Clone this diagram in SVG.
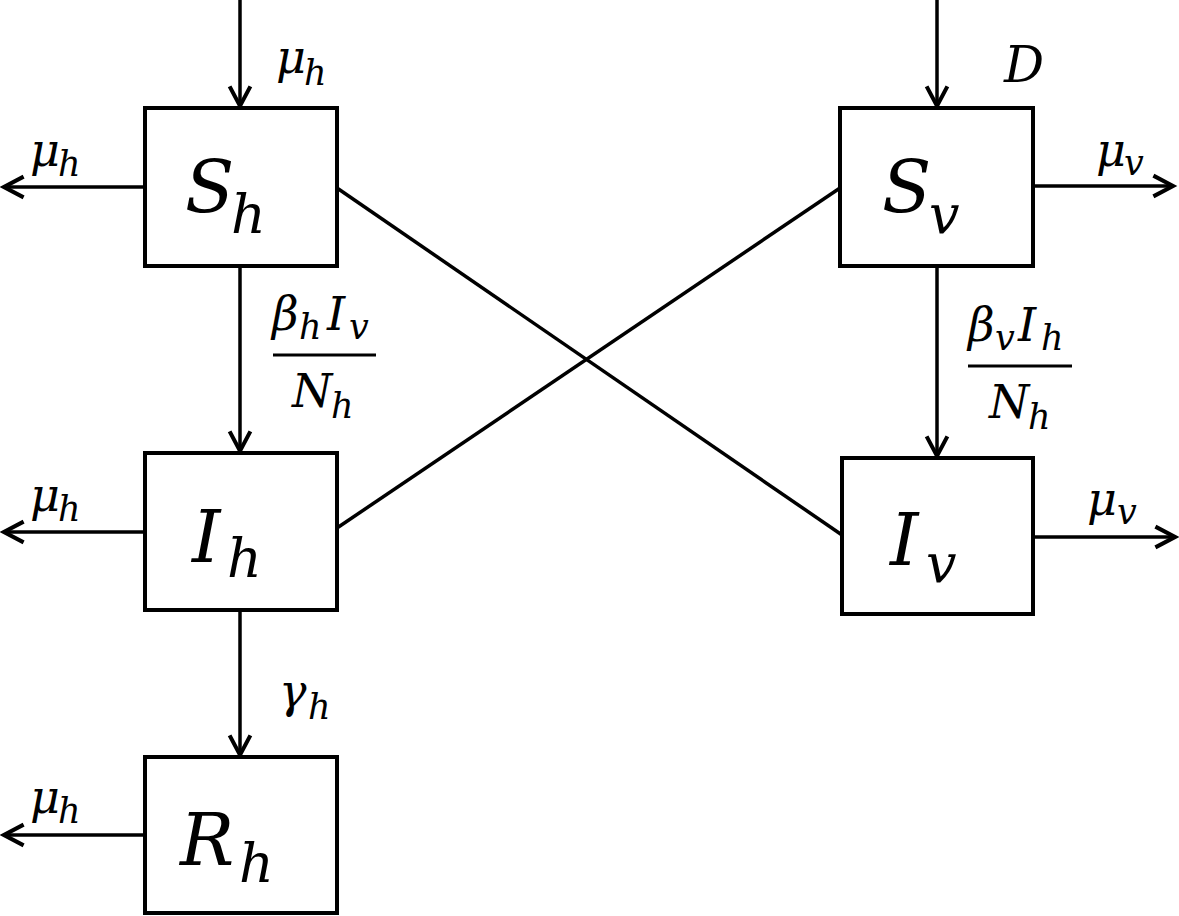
<svg xmlns="http://www.w3.org/2000/svg" width="1179" height="916" viewBox="0 0 1179 916">
<style>
.box{fill:#fff;stroke:#000;stroke-width:4}
.ln{fill:none;stroke:#000;stroke-width:3.5}
.m{font-family:"DejaVu Serif","Liberation Serif",serif;font-style:italic;fill:#000}
.big{font-size:72px}
.bs{font-size:54px}
.lb{font-size:46px}
.ls{font-size:35px}
</style>
<defs>
<marker id="ah" markerUnits="userSpaceOnUse" markerWidth="30" markerHeight="30" viewBox="-22 -12 26 24" refX="0" refY="0" orient="auto" overflow="visible">
<path d="M-17,-9 L0,0 L-17,9" fill="none" stroke="#000" stroke-width="3.5" stroke-linejoin="miter"/>
</marker>
</defs>
<rect width="1179" height="916" fill="#fff"/>
<g id="connectors">
<line class="ln" x1="240" y1="0" x2="240" y2="106" marker-end="url(#ah)"/>
<line class="ln" x1="145" y1="187" x2="4" y2="187" marker-end="url(#ah)"/>
<line class="ln" x1="240" y1="266" x2="240" y2="451" marker-end="url(#ah)"/>
<line class="ln" x1="145" y1="532" x2="4" y2="532" marker-end="url(#ah)"/>
<line class="ln" x1="240" y1="610" x2="240" y2="755" marker-end="url(#ah)"/>
<line class="ln" x1="145" y1="835" x2="4" y2="835" marker-end="url(#ah)"/>
<line class="ln" x1="937" y1="0" x2="937" y2="106" marker-end="url(#ah)"/>
<line class="ln" x1="1033" y1="186" x2="1173" y2="186" marker-end="url(#ah)"/>
<line class="ln" x1="937" y1="266" x2="937" y2="456" marker-end="url(#ah)"/>
<line class="ln" x1="1033" y1="537" x2="1175" y2="537" marker-end="url(#ah)"/>
<line class="ln" x1="337" y1="188" x2="842" y2="535"/>
<line class="ln" x1="337" y1="528" x2="840" y2="188"/>
</g>
<g id="labels">
<text class="m lb" x="276" y="73">μ</text><text class="m ls" x="304" y="85">h</text>
<text class="m lb" x="30" y="166">μ</text><text class="m ls" x="58" y="176">h</text>
<text class="m lb" x="30" y="511">μ</text><text class="m ls" x="58" y="521">h</text>
<text class="m lb" x="30" y="813">μ</text><text class="m ls" x="58" y="823">h</text>
<text class="m lb" x="1096" y="166">μ</text><text class="m ls" x="1124" y="175">v</text>
<text class="m lb" x="1087" y="515">μ</text><text class="m ls" x="1117" y="524">v</text>
<text class="m" style="font-size:50px" x="1004" y="82">D</text>
<text class="m lb" x="279" y="707">γ</text><text class="m ls" x="308" y="719">h</text>
<g id="frac-h">
<text class="m lb" x="272" y="330">β</text><text class="m ls" x="299" y="339">h</text>
<text class="m lb" x="327" y="330">I</text><text class="m ls" x="349" y="339">v</text>
<line x1="273" y1="355" x2="376" y2="355" stroke="#000" stroke-width="3"/>
<text class="m lb" x="292" y="407">N</text><text class="m ls" x="331" y="418">h</text>
</g>
<g id="frac-v">
<text class="m lb" x="968" y="341">β</text><text class="m ls" x="995" y="350">v</text>
<text class="m lb" x="1018" y="341">I</text><text class="m ls" x="1041" y="350">h</text>
<line x1="968" y1="366" x2="1072" y2="366" stroke="#000" stroke-width="3"/>
<text class="m lb" x="989" y="418">N</text><text class="m ls" x="1028" y="429">h</text>
</g>
</g>
<g id="Sh">
<rect class="box" x="145" y="108" width="192" height="158"/>
<text class="m big" x="185" y="213">S</text><text class="m bs" x="231" y="233">h</text>
</g>
<g id="Ih">
<rect class="box" x="145" y="453" width="192" height="157"/>
<text class="m big" x="192" y="562">I</text><text class="m bs" x="227" y="577">h</text>
</g>
<g id="Rh">
<rect class="box" x="145" y="757" width="192" height="156"/>
<text class="m big" x="180" y="865">R</text><text class="m bs" x="239" y="882">h</text>
</g>
<g id="Sv">
<rect class="box" x="840" y="108" width="193" height="158"/>
<text class="m big" x="882" y="213">S</text><text class="m bs" x="929" y="233">v</text>
</g>
<g id="Iv">
<rect class="box" x="842" y="458" width="191" height="156"/>
<text class="m big" x="890" y="565">I</text><text class="m bs" x="926" y="582">v</text>
</g>
</svg>
